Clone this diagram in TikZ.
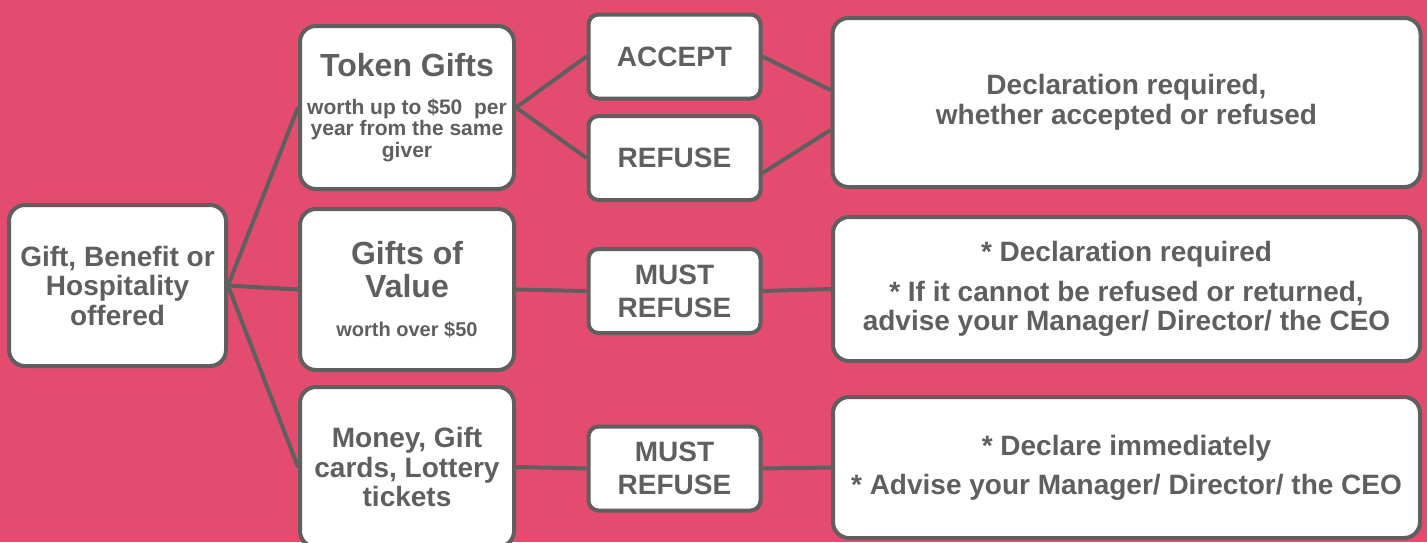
\documentclass[tikz,border=0pt]{standalone}
\usepackage{fontspec}
\setmainfont{Liberation Sans}
\usepackage{tikz}

\definecolor{bgpink}{HTML}{E34C6E}
\definecolor{boxgray}{HTML}{5F5F5F}

\tikzset{
  box/.style={draw=boxgray, line width=2pt, fill=white, rounded corners=8pt,
    align=flush center, text=boxgray, inner sep=0pt,
    font=\bfseries\fontsize{14}{14.75}\selectfont},
  smallbox/.style={box, rounded corners=5pt, text width=86pt, minimum height=42pt,
    font=\bfseries\fontsize{14}{16.5}\selectfont},
  link/.style={draw=boxgray, line width=2pt}
}
\newcommand{\titletxt}{\fontsize{16}{16.5}\selectfont}
\newcommand{\subtxt}{\fontsize{10.5}{10.75}\selectfont}

\begin{document}
\begin{tikzpicture}[x=0.5pt, y=-0.5pt]
  % column x-positions, in px of the 1427x542 canvas (y grows downwards)
  \def\xA{117.5} \def\xB{407} \def\xC{674.5} \def\xD{1126.5}

  % Background
  \fill[bgpink] (0,0) rectangle (1427,542);
  \useasboundingbox (0,0) rectangle (1427,542);

  % Starting point
  \node[box, text width=108.5pt, minimum height=80.5pt] (offer) at (\xA,285.5)
    {Gift, Benefit or\\ Hospitality\\ offered};

  % Kinds of gift
  \node[box, text width=107pt, minimum height=81.5pt] (token) at (\xB,107.5)
    {{\titletxt Token Gifts\par}\vspace{8.25pt}
     {\subtxt worth up to \$50~~per\\ year from the same\\ giver\par}};
  \node[box, text width=107pt, minimum height=80.5pt] (value) at (\xB,289.5)
    {{\titletxt Gifts of\\ Value\par}\vspace{9pt}
     {\fontsize{10}{10.5}\selectfont worth over \$50\par}};
  \node[box, text width=107pt, minimum height=80pt] (money) at (\xB,467)
    {Money, Gift\\ cards, Lottery\\ tickets};

  % What to do
  \node[smallbox] (accept) at (\xC,56.5) {ACCEPT};
  \node[smallbox] (refuse) at (\xC,158) {REFUSE};
  \node[smallbox] (mustA) at (\xC,291) {MUST\\ REFUSE};
  \node[smallbox] (mustB) at (\xC,468.5) {MUST\\ REFUSE};

  % Declarations
  \node[box, text width=294pt, minimum height=84.5pt] (declA) at (\xD,102.5)
    {Declaration required,\\ whether accepted or refused};
  \node[box, text width=293.5pt, minimum height=72pt] (declB) at (\xD,289)
    {* Declaration required\par\vspace{5.25pt}
     * If it cannot be refused or returned,\\ advise your Manager/ Director/ the CEO};
  \node[box, text width=293.5pt, minimum height=70.5pt] (declC) at (\xD,467.5)
    {* Declare immediately\par\vspace{4.75pt}
     * Advise your Manager/ Director/ the CEO};

  % Connectors
  \foreach \kind in {token, value, money}
    \draw[link] (offer.east) -- (\kind.west);
  \foreach \act in {accept, refuse}
    \draw[link] (token.east) -- (\act.west);
  \draw[link] (accept.east) -- ([yshift=6.25pt]declA.west);
  \draw[link] ([yshift=-7.5pt]refuse.east) -- ([yshift=-13.75pt]declA.west);
  \draw[link] (value.east) -- (mustA.west);
  \draw[link] (mustA.east) -- (declB.west);
  \draw[link] (money.east) -- (mustB.west);
  \draw[link] (mustB.east) -- (declC.west);
\end{tikzpicture}
\end{document}
